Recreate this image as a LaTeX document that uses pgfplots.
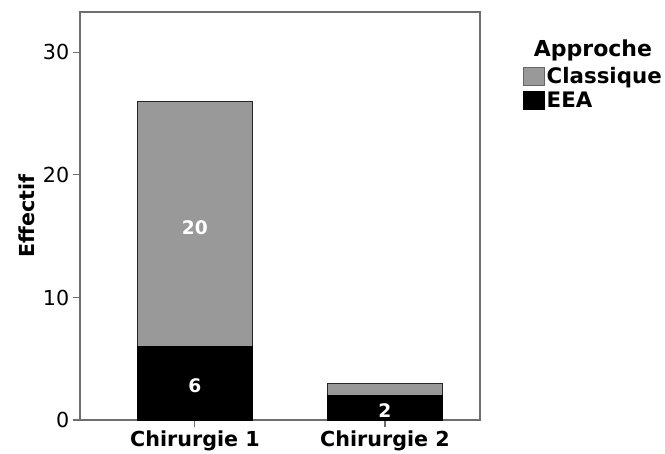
\documentclass[border=0pt]{standalone}
\usepackage{pgfplots}
\pgfplotsset{compat=1.18}
\usepackage{fontspec}
\setmainfont{DejaVu Sans}
\definecolor{classique}{RGB}{153,153,153}
\definecolor{axgray}{RGB}{110,110,110}
\begin{document}
\begin{tikzpicture}
\useasboundingbox (-60pt,-25.5pt) rectangle (438.75pt,315pt);
\begin{axis}[
  scale only axis, width=300pt, height=306pt,
  clip=false,
  ybar stacked, bar width=0.605,
  xmin=-0.605, xmax=1.5, ymin=0, ymax=33.3,
  xtick={0,1}, xticklabels={Chirurgie 1, Chirurgie 2},
  ytick={0,10,20,30},
  xtick pos=lower, ytick pos=left,
  tick align=outside, major tick length=5.5pt,
  /pgf/number format/assume math mode=true,
  xticklabel style={font=\fontsize{15.5}{18}\selectfont\bfseries, yshift=1pt},
  yticklabel style={font=\fontsize{15.5}{18}\selectfont, xshift=1pt},
  axis line style={axgray, line width=0.8pt},
  tick style={axgray, line width=0.8pt},
  ylabel={\textbf{Effectif}},
  ylabel style={font=\fontsize{15.5}{18}\selectfont, yshift=-1pt},
  reverse legend,
  legend cell align=left,
  legend style={draw=none, fill=none, at={(rel axis cs:1.1075,0.872)}, anchor=north west,
    font=\fontsize{16}{18.5}\selectfont\bfseries, inner sep=0pt, row sep=1pt,
    nodes={inner xsep=1.5pt}},
]
\addplot[fill=black, draw=black, line width=0.6pt,
  legend image code/.code={\draw[fill=black, draw=black] (0pt,-6.75pt) rectangle (15.5pt,6.75pt);}]
  coordinates {(0,6) (1,2)};
\addlegendentry{EEA}
\addplot[fill=classique, draw=black!85, line width=0.6pt,
  legend image code/.code={\draw[fill=classique, draw=black!60] (0pt,-6.75pt) rectangle (15.5pt,6.75pt);}]
  coordinates {(0,20) (1,1)};
\addlegendentry{Classique}
\node[font=\fontsize{16.5}{19}\selectfont\bfseries] at (rel axis cs:1.2825,0.907) {Approche};
\end{axis}
\begin{axis}[
  scale only axis, width=300pt, height=306pt,
  xmin=-0.605, xmax=1.5, ymin=0, ymax=33.3,
  hide axis, clip=false,
]
\addplot[draw=none, mark=none,
  nodes near coords, point meta=explicit symbolic,
  every node near coord/.append style={anchor=center, text=white,
    font=\fontsize{14}{16}\selectfont\bfseries}]
  coordinates {(0,15.7) [20] (0,2.8) [6] (1,0.8) [2]};
\end{axis}
\end{tikzpicture}
\end{document}
